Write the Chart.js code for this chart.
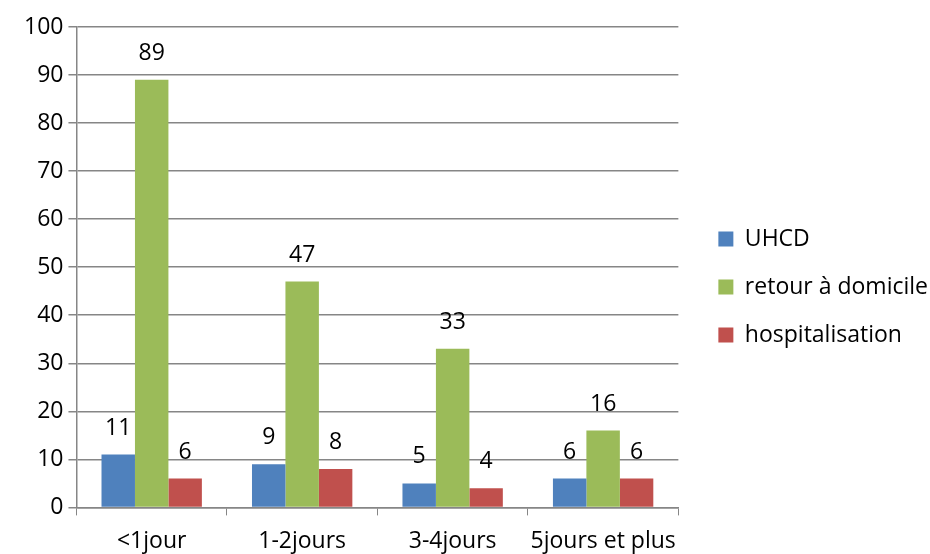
<!DOCTYPE html>
<html>
<head>
<meta charset="utf-8">
<script src="https://cdn.jsdelivr.net/npm/chart.js@4"></script>
<style>
  body { margin: 0; background: #fff; }
</style>
</head>
<body>
<canvas id="myChart" width="930" height="554"></canvas>
<script>
const categories = ['<1jour', '1-2jours', '3-4jours', '5jours et plus'];
const uhcd = [11, 9, 5, 6];
const retourDomicile = [89, 47, 33, 16];
const hospitalisation = [6, 8, 4, 6];
const yTicks = [0, 10, 20, 30, 40, 50, 60, 70, 80, 90, 100];

const font = 'Open Sans';
const fontSize = 23;
const gridColor = '#868686';

// labels au-dessus des barres
const valueLabels = {
    id: 'valueLabels',
    afterDatasetsDraw(chart) {
        const ctx = chart.ctx;
        ctx.save();
        ctx.font = fontSize + 'px "' + font + '"';
        ctx.fillStyle = '#000';
        ctx.textAlign = 'center';
        ctx.textBaseline = 'alphabetic';
        chart.data.datasets.forEach((ds, i) => {
            chart.getDatasetMeta(i).data.forEach((bar, j) => {
                ctx.fillText(ds.data[j], bar.x, bar.y - 20);
            });
        });
        ctx.restore();
    }
};

const ctx = document.getElementById('myChart');
const myChart = new Chart(ctx, {
    type: 'bar',
    data: {
        labels: categories,
        datasets: [
            { label: 'UHCD', data: uhcd, backgroundColor: '#4F81BD' },
            { label: 'retour à domicile', data: retourDomicile, backgroundColor: '#9BBB59' },
            { label: 'hospitalisation', data: hospitalisation, backgroundColor: '#C0504D' }
        ]
    },
    options: {
        responsive: false,
        animation: false,
        devicePixelRatio: 1,
        categoryPercentage: 0.667,
        barPercentage: 1,
        layout: { padding: { top: 27, left: 19, right: 0, bottom: -13 } },
        plugins: {
            legend: {
                position: 'right',
                maxWidth: 300,
                labels: {
                    font: { family: font, size: fontSize },
                    color: '#000',
                    boxWidth: 15,
                    boxHeight: 15,
                    padding: 25
                }
            },
            tooltip: { enabled: false }
        },
        scales: {
            x: {
                grid: {
                    offset: true,
                    drawOnChartArea: false,
                    color: gridColor,
                    tickLength: 8
                },
                border: { color: gridColor, width: 1.5 },
                ticks: {
                    font: { family: font, size: fontSize },
                    color: '#000',
                    padding: 12,
                    maxRotation: 0,
                    minRotation: 0,
                    autoSkip: false
                }
            },
            y: {
                min: 0,
                max: 100,
                afterBuildTicks: axis => { axis.ticks = yTicks.map(v => ({ value: v })); },
                grid: { color: gridColor, tickLength: 8, lineWidth: 1.5 },
                border: { color: gridColor, width: 1.5 },
                ticks: { font: { family: font, size: fontSize }, color: '#000', padding: 5 }
            }
        }
    },
    plugins: [valueLabels]
});

// légende un peu plus large et décalée, comme dans Excel
const legend = myChart.legend;
const origFit = legend.fit;
const origDraw = legend.draw;
legend.fit = function () {
    origFit.call(this);
    this.width += 7;
};
legend.draw = function () {
    const c = this.ctx;
    c.save();
    c.translate(15, -10);
    origDraw.call(this);
    c.restore();
};
myChart.update();
</script>
</body>
</html>
